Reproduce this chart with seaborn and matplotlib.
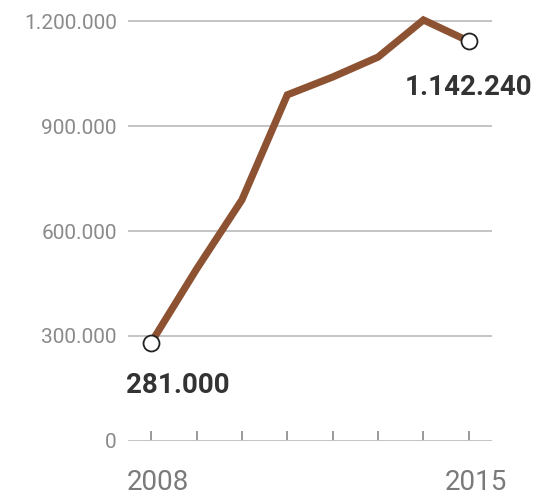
import matplotlib
matplotlib.use("Agg")
import matplotlib.pyplot as plt
import matplotlib.transforms as mtransforms
import seaborn as sns
import pandas as pd

# data
years = [2008, 2009, 2010, 2011, 2012, 2013, 2014, 2015]
values = [281000, 491000, 689000, 989000, 1040000, 1097000, 1203000, 1142240]
ytick_vals = [0, 300000, 600000, 900000, 1200000]
ytick_labels = ["0", "300.000", "600.000", "900.000", "1.200.000"]
xtick_labels = ["2008", "", "", "", "", "", "", "2015"]
first_label = "281.000"
last_label = "1.142.240"

df = pd.DataFrame({"year": years, "value": values})

sns.set_style("white")
plt.rcParams["font.family"] = ["Roboto", "DejaVu Sans"]

fig = plt.figure(figsize=(5.34, 4.96), dpi=100)
ax = fig.add_axes([0.2397, 0.1109, 0.6816, 0.8679])

grid_col = "#c4c4c4"
for v in ytick_vals:
    ax.axhline(v, color=grid_col, lw=1.4, zorder=1)

sns.lineplot(data=df, x="year", y="value", ax=ax, color="#8d5232",
             lw=5.2, zorder=3, solid_joinstyle="miter")

ends = df.iloc[[0, -1]]
ax.plot(ends["year"], ends["value"], "o", ms=11.5, mfc="white",
        mec="#222222", mew=1.3, zorder=4)

ax.annotate(first_label, (years[0], values[0]), xytext=(-25, -50),
            textcoords="offset pixels", fontsize=20, fontweight="bold",
            color="#333333", ha="left", va="baseline")
ax.annotate(last_label, (years[-1], values[-1]), xytext=(-64, -54),
            textcoords="offset pixels", fontsize=20, fontweight="bold",
            color="#333333", ha="left", va="baseline")

ax.set_xlim(2007.49, 2015.51)
ax.set_ylim(0, 1230000)
ax.set_yticks(ytick_vals)
ax.set_yticklabels(ytick_labels)
ax.set_xticks(years)
ax.set_xticklabels(xtick_labels)
ax.tick_params(axis="y", left=False, length=0, pad=8, labelsize=15,
               labelcolor="#8a8a8a")
ax.tick_params(axis="x", bottom=True, direction="in", length=7, width=1.2,
               color="#888888", pad=20, labelsize=20, labelcolor="#7a7a7a")
shift = mtransforms.ScaledTranslation(5 / 72, 0, fig.dpi_scale_trans)
for lbl in ax.get_xticklabels():
    lbl.set_transform(lbl.get_transform() + shift)
ax.set_xlabel("")
ax.set_ylabel("")
for s in ax.spines.values():
    s.set_visible(False)

fig.savefig("out.png", dpi=100)
